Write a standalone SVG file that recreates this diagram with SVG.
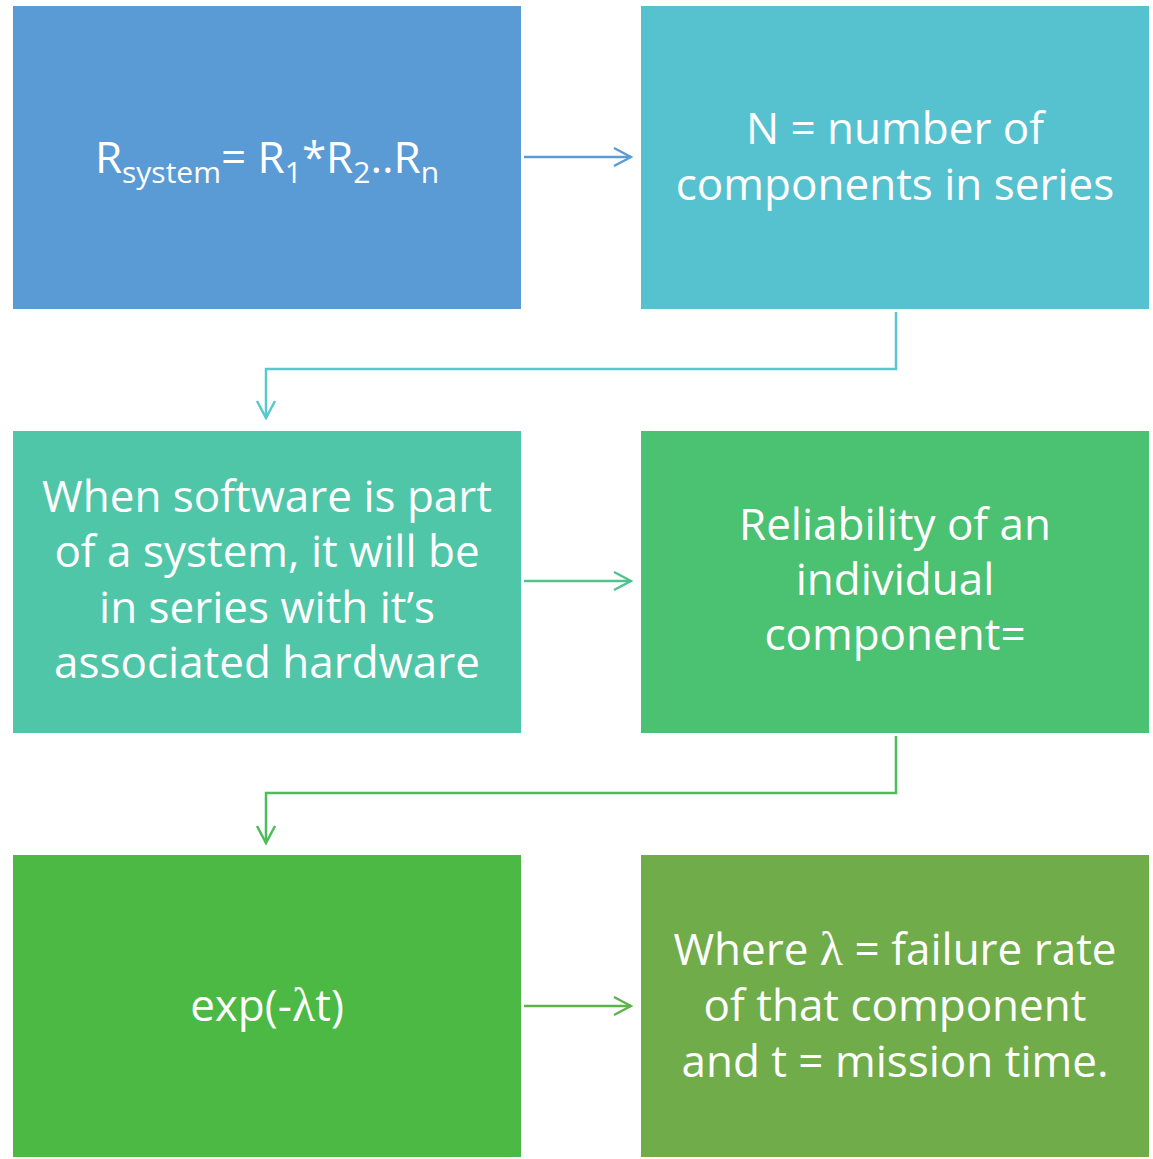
<svg xmlns="http://www.w3.org/2000/svg" width="1153" height="1159" viewBox="0 0 1153 1159">
<style>
text{font-family:"Open Sans","Noto Sans",sans-serif;font-size:44px;fill:#fff;text-anchor:middle}
.sym{font-family:"Liberation Serif",serif;font-size:48px}
.c{fill:none;stroke-width:2.5}
</style>
<defs>
<marker id="a1" markerWidth="20" markerHeight="22" refX="18" refY="11" orient="auto" markerUnits="userSpaceOnUse"><path d="M1,2 L18,11 L1,20" fill="none" stroke="#5B9BD5" stroke-width="2.5"/></marker>
<marker id="a2" markerWidth="20" markerHeight="22" refX="18" refY="11" orient="auto" markerUnits="userSpaceOnUse"><path d="M1,2 L18,11 L1,20" fill="none" stroke="#56C8CE" stroke-width="2.5"/></marker>
<marker id="a3" markerWidth="20" markerHeight="22" refX="18" refY="11" orient="auto" markerUnits="userSpaceOnUse"><path d="M1,2 L18,11 L1,20" fill="none" stroke="#4FC38E" stroke-width="2.5"/></marker>
<marker id="a4" markerWidth="20" markerHeight="22" refX="18" refY="11" orient="auto" markerUnits="userSpaceOnUse"><path d="M1,2 L18,11 L1,20" fill="none" stroke="#4BBD5A" stroke-width="2.5"/></marker>
<marker id="a5" markerWidth="20" markerHeight="22" refX="18" refY="11" orient="auto" markerUnits="userSpaceOnUse"><path d="M1,2 L18,11 L1,20" fill="none" stroke="#5DB34A" stroke-width="2.5"/></marker>
</defs>
<rect width="1153" height="1159" fill="#fff"/>
<g id="n1"><rect x="13" y="6" width="508" height="303" fill="#5B9BD5"/>
<text x="267" y="173">R<tspan font-size="30" dy="10">system</tspan><tspan dy="-10">= R</tspan><tspan font-size="30" dy="10">1</tspan><tspan dy="-10">*R</tspan><tspan font-size="30" dy="10">2</tspan><tspan dy="-10">..R</tspan><tspan font-size="30" dy="10">n</tspan></text></g>
<g id="n2"><rect x="641" y="6" width="508" height="303" fill="#56C2CF"/>
<text x="895" y="144">N = number of</text><text x="895" y="200">components in series</text></g>
<g id="n3"><rect x="13" y="431" width="508" height="302" fill="#50C6A8"/>
<text x="267" y="512">When software is part</text><text x="267" y="567">of a system, it will be</text><text x="267" y="623">in series with it’s</text><text x="267" y="678">associated hardware</text></g>
<g id="n4"><rect x="641" y="431" width="508" height="302" fill="#4BC172"/>
<text x="895" y="540">Reliability of an</text><text x="895" y="595">individual</text><text x="895" y="650">component=</text></g>
<g id="n5"><rect x="13" y="855" width="508" height="302" fill="#4BB944"/>
<text x="267" y="1021">exp(-<tspan class="sym">λ</tspan>t)</text></g>
<g id="n6"><rect x="641" y="855" width="508" height="302" fill="#71AC4A"/>
<text x="895" y="965">Where <tspan class="sym">λ</tspan> = failure rate</text><text x="895" y="1021">of that component</text><text x="895" y="1077">and t = mission time.</text></g>
<g id="connectors">
<path class="c" stroke="#5B9BD5" d="M524,157 H631" marker-end="url(#a1)"/>
<path class="c" stroke="#56C8CE" d="M896,312 V369 H266 V418" marker-end="url(#a2)"/>
<path class="c" stroke="#4FC38E" d="M524,581 H631" marker-end="url(#a3)"/>
<path class="c" stroke="#4BBD5A" d="M896,736 V793 H266 V843" marker-end="url(#a4)"/>
<path class="c" stroke="#5DB34A" d="M524,1006 H631" marker-end="url(#a5)"/>
</g>
</svg>
